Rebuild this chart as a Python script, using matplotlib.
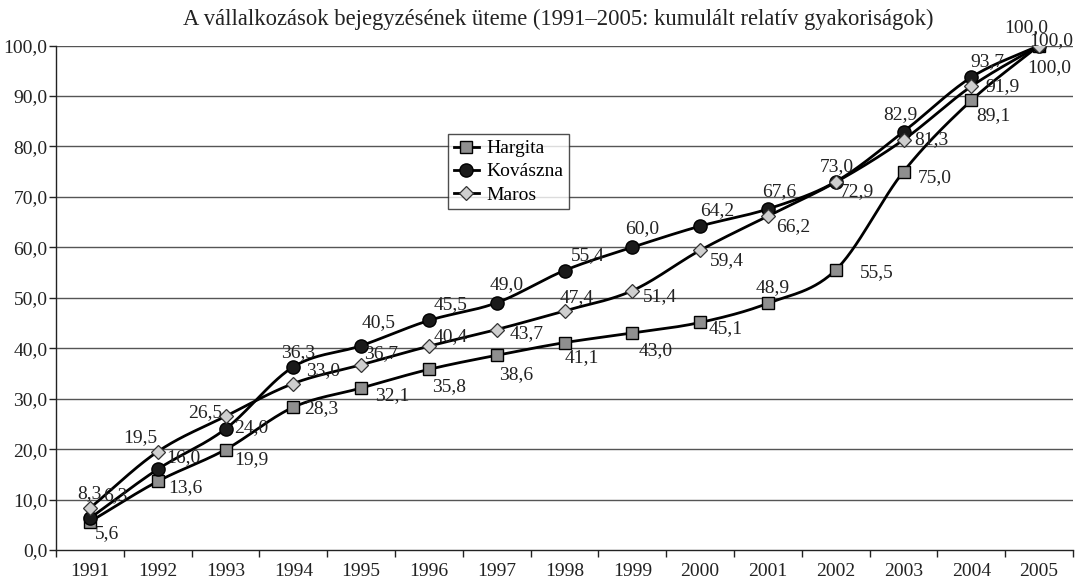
import numpy as np
import matplotlib
matplotlib.use("Agg")
import matplotlib.pyplot as plt
from matplotlib.ticker import FuncFormatter, FixedLocator

years = list(range(1991, 2006))
hargita = [5.6, 13.6, 19.9, 28.3, 32.1, 35.8, 38.6, 41.1, 43.0, 45.1, 48.9, 55.5, 75.0, 89.1, 100.0]
kovaszna = [6.3, 16.0, 24.0, 36.3, 40.5, 45.5, 49.0, 55.4, 60.0, 64.2, 67.6, 73.0, 82.9, 93.7, 100.0]
maros = [8.3, 19.5, 26.5, 33.0, 36.7, 40.4, 43.7, 47.4, 51.4, 59.4, 66.2, 72.9, 81.3, 91.9, 100.0]
series_names = ["Hargita", "Kovászna", "Maros"]
title = "A vállalkozások bejegyzésének üteme (1991–2005: kumulált relatív gyakoriságok)"

# label offsets (pixels, label centre relative to marker; +y = up)
off_h = [(17, -12), (28, -6), (26, -10), (28, -1), (31, -8), (20, -17), (19, -19), (17, -15),
         (23, -18), (26, -6), (5, 16), (41, -3), (31, -6), (22, -15), (10, -22)]
off_k = [(25, 23), (26, 12), (26, 1), (5, 14), (18, 23), (22, 16), (10, 18), (23, 15),
         (10, 19), (17, 16), (11, 17), (1, 15), (-3, 17), (16, 16), (-13, 18)]
off_m = [(0, 15), (-17, 14), (-20, 4), (30, 13), (20, 11), (22, 10), (30, -4), (12, 13),
         (28, -6), (27, -10), (25, -11), (21, -9), (28, 0), (31, 0), (12, 5)]

FONT = "Liberation Serif"
FS = 14
plt.rcParams["font.family"] = [FONT, "DejaVu Serif"]


def smooth(x, y, n=30):
    x = np.asarray(x, float)
    y = np.asarray(y, float)
    P = np.column_stack([x, y])
    P = np.vstack([2 * P[0] - P[1], P, 2 * P[-1] - P[-2]])
    out = []
    t = np.linspace(0, 1, n, endpoint=False)[:, None]
    for i in range(1, len(P) - 2):
        p0, p1, p2, p3 = P[i - 1], P[i], P[i + 1], P[i + 2]
        seg = 0.5 * ((2 * p1) + (-p0 + p2) * t + (2 * p0 - 5 * p1 + 4 * p2 - p3) * t ** 2
                     + (-p0 + 3 * p1 - 3 * p2 + p3) * t ** 3)
        out.append(seg)
    out.append(P[-2][None, :])
    out = np.vstack(out)
    return out[:, 0], out[:, 1]


fig = plt.figure(figsize=(10.78, 5.84), dpi=100)
ax = fig.add_axes([56 / 1078, 34 / 584, (1073 - 56) / 1078, (550 - 45.5) / 584])

ax.set_xlim(1990.5, 2005.5)
ax.set_ylim(0, 100)

for v in range(10, 101, 10):
    ax.axhline(v, color="#555555", lw=1.0, zorder=1)

styles = [
    dict(marker="s", ms=8.8, mfc="#8f8f8f", mec="black", mew=1.0),
    dict(marker="o", ms=9.5, mfc="#1a1a1a", mec="black", mew=1.0),
    dict(marker="D", ms=6.8, mfc="#cfcfcf", mec="#333333", mew=0.9),
]
data = [hargita, kovaszna, maros]
offs = [off_h, off_k, off_m]
handles = []
for name, vals, st, off in zip(series_names, data, styles, offs):
    sx, sy = smooth(years, vals)
    ax.plot(sx, sy, color="black", lw=2.0, zorder=3, solid_capstyle="round")
    ax.plot(years, vals, ls="none", zorder=4, **st)
    h, = ax.plot([], [], color="black", lw=2.0, label=name, **st)
    handles.append(h)
    for xv, yv, (dx, dy) in zip(years, vals, off):
        ax.annotate(f"{yv:.1f}".replace(".", ","), (xv, yv), xytext=(dx, dy),
                    textcoords="offset pixels", ha="center", va="center",
                    fontsize=FS, color="#222222", zorder=5)

# axes styling
for s in ["top", "right"]:
    ax.spines[s].set_visible(False)
ax.spines["left"].set_linewidth(1.0)
ax.spines["bottom"].set_linewidth(1.0)
ax.spines["left"].set_color("#222222")
ax.spines["bottom"].set_color("#222222")

ax.set_yticks(range(0, 101, 10))
ax.yaxis.set_major_formatter(FuncFormatter(lambda v, p: f"{v:.1f}".replace(".", ",")))
ax.tick_params(axis="y", length=5, width=1, pad=1, labelsize=FS, colors="#222222")

ax.set_xticks(years)
ax.set_xticklabels([str(y) for y in years])
ax.tick_params(axis="x", which="major", length=0, pad=9, labelsize=FS, colors="#222222")
ax.xaxis.set_minor_locator(FixedLocator([y + 0.5 for y in range(1990, 2006)]))
ax.tick_params(axis="x", which="minor", length=5, width=1, color="#222222")

fig.text(558 / 1078, 1 - 19 / 584, title, ha="center", va="center", fontsize=16.3, color="#222222")

leg = ax.legend(handles=handles, loc="upper left", bbox_to_anchor=((448 - 56) / 1017, (550 - 134) / 504.5),
                frameon=True, fancybox=False, edgecolor="#222222", fontsize=FS,
                handlelength=1.3, handletextpad=0.35, labelspacing=0.28, borderpad=0.3,
                borderaxespad=0)
leg.get_frame().set_linewidth(1.0)
leg.set_zorder(6)

fig.savefig("out.png", dpi=100, facecolor="white")
